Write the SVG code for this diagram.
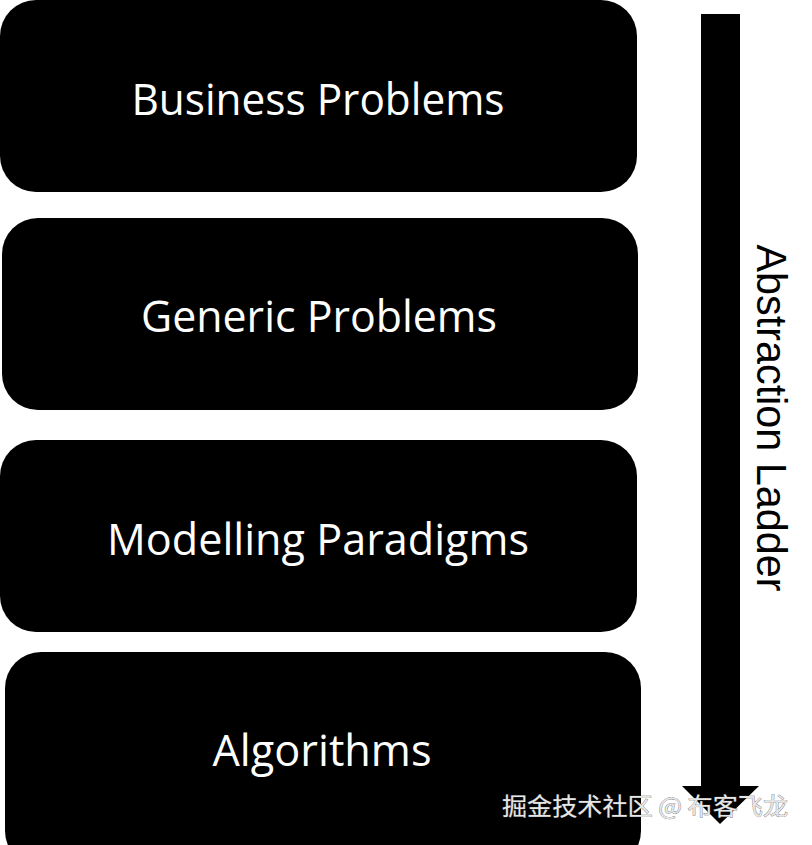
<svg xmlns="http://www.w3.org/2000/svg" width="812" height="845" viewBox="0 0 812 845">
<style>
.box{fill:#000}
.lbl{fill:#fff;font-family:"Open Sans","Liberation Sans",sans-serif;font-size:44px;text-anchor:middle}
.side{fill:#000;font-family:"Liberation Sans",Arial,sans-serif;font-size:42px;text-anchor:middle}
.wm{fill:#e6e6e6;stroke:#555;stroke-width:0.6;paint-order:stroke;font-family:"Noto Sans CJK SC",sans-serif;font-size:24px}
</style>
<rect width="812" height="845" fill="#fff"/>
<g id="business"><rect class="box" x="0" y="0" width="637" height="192" rx="36"/><text class="lbl" x="318" y="115" textLength="373" lengthAdjust="spacingAndGlyphs">Business Problems</text></g>
<g id="generic"><rect class="box" x="2" y="218" width="636" height="192" rx="36"/><text class="lbl" x="319" y="332" textLength="356" lengthAdjust="spacingAndGlyphs">Generic Problems</text></g>
<g id="modelling"><rect class="box" x="0" y="440" width="637" height="192" rx="36"/><text class="lbl" x="318" y="555" textLength="422" lengthAdjust="spacingAndGlyphs">Modelling Paradigms</text></g>
<g id="algorithms"><rect class="box" x="5" y="652" width="636" height="215" rx="36"/><text class="lbl" x="322" y="766" textLength="219" lengthAdjust="spacingAndGlyphs">Algorithms</text></g>
<g id="connectors"><polygon fill="#000" points="701,14 740,14 740,786 759,786 720,824 682,786 701,786"/></g>
<g id="ladder-label"><text class="side" transform="translate(757,418) rotate(90)" textLength="347" lengthAdjust="spacingAndGlyphs">Abstraction Ladder</text></g>
<text class="wm" x="502" y="815" textLength="286" lengthAdjust="spacingAndGlyphs">掘金技术社区 @ 布客飞龙</text>
</svg>
